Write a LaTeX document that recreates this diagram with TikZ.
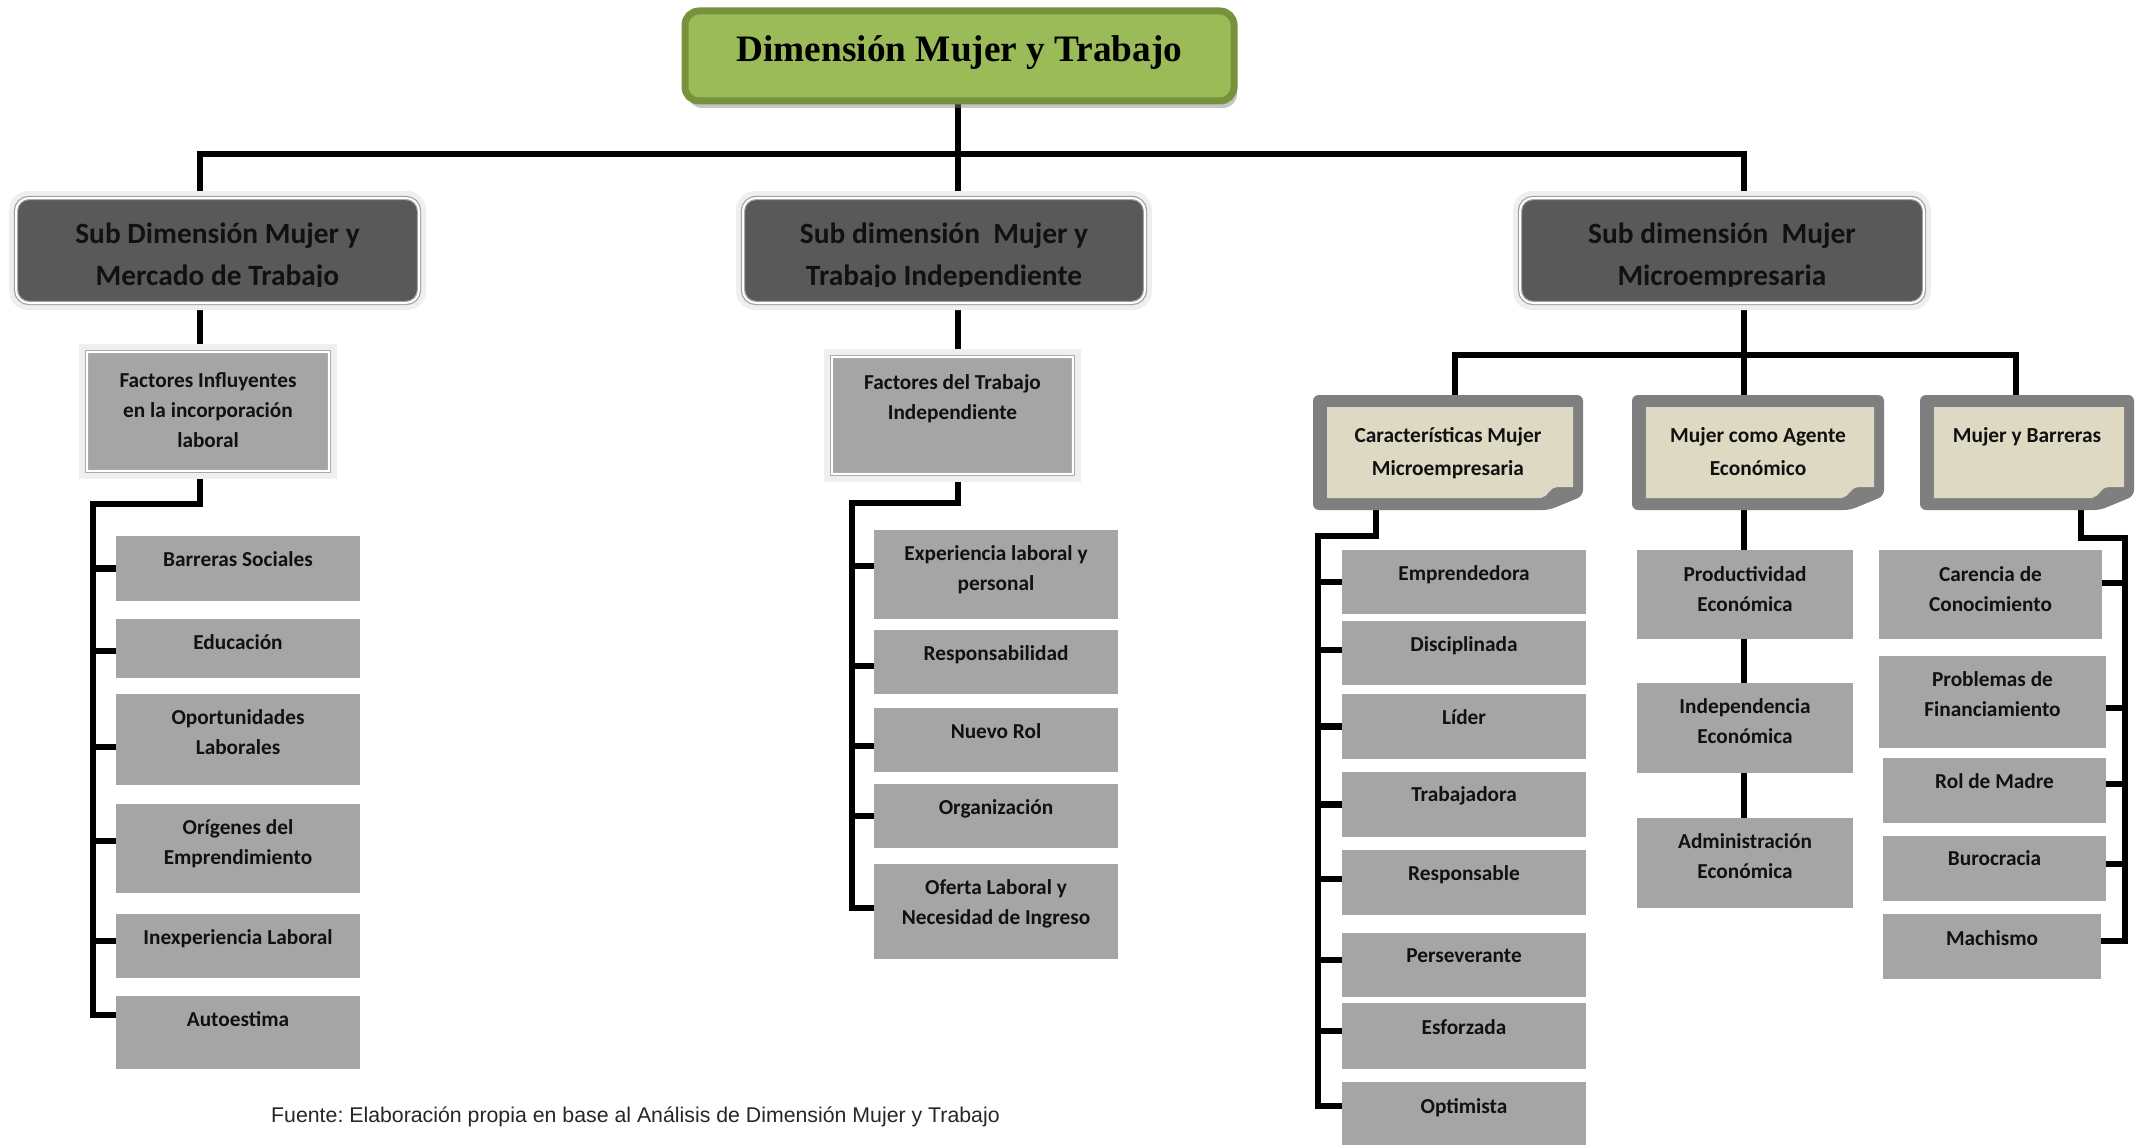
\documentclass[tikz,border=0pt]{standalone}
\usepackage{fontspec}
\setmainfont{Carlito}
\newfontfamily\serifbold{Liberation Serif}
\newfontfamily\arialfont{Liberation Sans}
\usetikzlibrary{calc,backgrounds,shadows}
\frenchspacing

\definecolor{titlefill}{HTML}{9BBB59}
\definecolor{titleedge}{HTML}{76923C}
\definecolor{subfill}{HTML}{595959}
\definecolor{leaffill}{HTML}{A5A5A5}
\definecolor{notegray}{HTML}{7F7F7F}
\definecolor{notetan}{HTML}{DDD9C3}
\definecolor{halo}{HTML}{EFEFEF}
\definecolor{inktext}{HTML}{111111}

% strut that fixes the height of a first text line
\newcommand\fl[1][20pt]{\rule{0pt}{#1}}

% note card with a curled bottom-right corner, drawn around an anchor node
\newcommand\notecard[1]{%
  \fill[notegray, rounded corners=6pt] (#1.north west) -- (#1.north east)
    -- ($(#1.south east)+(0,-14)$) -- ($(#1.south east)+(-34,0)$)
    -- (#1.south west) -- cycle;
  \fill[notetan] ($(#1.north west)+(14,12)$) -- ($(#1.north east)+(-10,12)$)
    -- ($(#1.south east)+(-10,-23)$) -- ($(#1.south east)+(-26,-23)$)
    .. controls ($(#1.south east)+(-33,-23)$) and ($(#1.south east)+(-35,-13)$)
    .. ($(#1.south east)+(-42,-12)$) -- ($(#1.south west)+(14,-12)$) -- cycle;
}

\tikzset{
  conn/.style={draw=black, line width=6.5pt},
  titlebox/.style={rectangle, rounded corners=14pt, fill=titlefill, draw=titleedge,
    line width=7pt, inner sep=0pt, outer sep=0pt,
    drop shadow={shadow xshift=3pt, shadow yshift=-7pt, opacity=0.45}},
  subbox/.style={rectangle, rounded corners=13pt, fill=subfill, draw=gray!75,
    double=white, double distance=2pt, line width=1.2pt, inner sep=0pt, outer sep=0pt},
  factbox/.style={rectangle, fill=leaffill, draw=gray!65, double=white,
    double distance=2pt, line width=1.2pt, inner sep=0pt, outer sep=0pt},
  leafbox/.style={rectangle, fill=leaffill, inner sep=0pt, outer sep=0pt},
  notebox/.style={rectangle, inner sep=0pt, outer sep=0pt},
  leaftext/.style={anchor=north, inner sep=0pt, align=center, text=inktext,
    font=\fontsize{21.3}{30}\selectfont\bfseries},
  subtext/.style={anchor=north, inner sep=0pt, align=center, text=inktext,
    font=\fontsize{29.4}{42}\selectfont\bfseries},
  notetext/.style={anchor=north, inner sep=0pt, align=center, text=inktext,
    font=\fontsize{21.4}{33}\selectfont\bfseries},
}

\begin{document}
\begin{tikzpicture}[x=1pt, y=-1pt]
\useasboundingbox (0,0) rectangle (2138,1145);

% ---------- title ----------
\node[titlebox, minimum width=549, minimum height=90] (title) at (959.5,56) {};
\node[anchor=base, inner sep=0pt, font=\serifbold\bfseries\fontsize{37.3}{44}\selectfont]
  (titlet) at ($(title.center)+(0,6)$) {Dimensión Mujer y Trabajo};

% ---------- sub dimensions (text frame cuts the descenders of the 2nd line) ----------
\node[subbox, minimum width=403, minimum height=105] (s1) at (217.5,250.5) {};
\node[subbox, minimum width=402, minimum height=105] (s2) at (944,250.5) {};
\node[subbox, minimum width=404, minimum height=105] (s3) at (1722,250.5) {};
\begin{scope}
  \clip (s1.north west) rectangle ($(s1.south east)+(0,-16.5)$);
  \node[subtext] (s1t) at ($(s1.north)+(0,21)$) {\fl[24pt]Sub Dimensión Mujer y\\Mercado de Trabajo};
\end{scope}
\begin{scope}
  \clip (s2.north west) rectangle ($(s2.south east)+(0,-16.5)$);
  \node[subtext] (s2t) at ($(s2.north)+(0,21)$) {\fl[24pt]Sub dimensión~ Mujer y\\Trabajo Independiente};
\end{scope}
\begin{scope}
  \clip (s3.north west) rectangle ($(s3.south east)+(0,-16.5)$);
  \node[subtext] (s3t) at ($(s3.north)+(0,21)$) {\fl[24pt]Sub dimensión~ Mujer\\Microempresaria};
\end{scope}

% ---------- factor boxes ----------
\node[factbox, minimum width=242, minimum height=119] (f1) at (208,411.5) {};
\node[leaftext] (f1t) at ($(f1.north)+(0,15)$) {\fl Factores Influyentes\\en la incorporación\\laboral};
\node[factbox, minimum width=241, minimum height=117] (f2) at (952.5,415.5) {};
\node[leaftext] (f2t) at ($(f2.north)+(0,12)$) {\fl Factores del Trabajo\\Independiente};

% ---------- note cards ----------
\node[notebox, minimum width=270, minimum height=115] (nA) at (1448,452.5) {};
\notecard{nA}
\node[notetext] (nAt) at ($(nA.north)+(0,27)$) {\fl Características Mujer\\Microempresaria};
\node[notebox, minimum width=252, minimum height=115] (nB) at (1758,452.5) {};
\notecard{nB}
\node[notetext] (nBt) at ($(nB.north)+(0,27)$) {\fl Mujer como Agente\\Económico};
\node[notebox, minimum width=214, minimum height=115] (nC) at (2027,452.5) {};
\notecard{nC}
\node[notetext] (nCt) at ($(nC.north)+(0,27)$) {\fl Mujer y Barreras};

% ---------- leaves: labour market ----------
\node[leafbox, minimum width=244, minimum height=65] (l1) at (238,568.5) {};
\node[leafbox, minimum width=244, minimum height=59] (l2) at (238,648.5) {};
\node[leafbox, minimum width=244, minimum height=91] (l3) at (238,739.5) {};
\node[leafbox, minimum width=244, minimum height=89] (l4) at (238,848.5) {};
\node[leafbox, minimum width=244, minimum height=64] (l5) at (238,946) {};
\node[leafbox, minimum width=244, minimum height=73] (l6) at (238,1032.5) {};
\node[leaftext] (l1t) at ($(l1.north)+(0,10.5)$) {\fl Barreras Sociales};
\node[leaftext] (l2t) at ($(l2.north)+(0,10.5)$) {\fl Educación};
\node[leaftext] (l3t) at ($(l3.north)+(0,10.5)$) {\fl Oportunidades\\Laborales};
\node[leaftext] (l4t) at ($(l4.north)+(0,10.5)$) {\fl Orígenes del\\Emprendimiento};
\node[leaftext] (l5t) at ($(l5.north)+(0,10.5)$) {\fl Inexperiencia Laboral};
\node[leaftext] (l6t) at ($(l6.north)+(0,10.5)$) {\fl Autoestima};

% ---------- leaves: independent work ----------
\node[leafbox, minimum width=244, minimum height=89] (m1) at (996,574.5) {};
\node[leafbox, minimum width=244, minimum height=64] (m2) at (996,662) {};
\node[leafbox, minimum width=244, minimum height=64] (m3) at (996,740) {};
\node[leafbox, minimum width=244, minimum height=64] (m4) at (996,816) {};
\node[leafbox, minimum width=244, minimum height=95] (m5) at (996,911.5) {};
\node[leaftext] (m1t) at ($(m1.north)+(0,10)$) {\fl Experiencia laboral y\\personal};
\node[leaftext] (m2t) at ($(m2.north)+(0,10)$) {\fl Responsabilidad};
\node[leaftext] (m3t) at ($(m3.north)+(0,10)$) {\fl Nuevo Rol};
\node[leaftext] (m4t) at ($(m4.north)+(0,10)$) {\fl Organización};
\node[leaftext] (m5t) at ($(m5.north)+(0,10)$) {\fl Oferta Laboral y\\Necesidad de Ingreso};

% ---------- leaves: characteristics ----------
\node[leafbox, minimum width=244, minimum height=64] (a1) at (1464,582) {};
\node[leafbox, minimum width=244, minimum height=64] (a2) at (1464,653) {};
\node[leafbox, minimum width=244, minimum height=65] (a3) at (1464,726.5) {};
\node[leafbox, minimum width=244, minimum height=65] (a4) at (1464,804.5) {};
\node[leafbox, minimum width=244, minimum height=65] (a5) at (1464,882.5) {};
\node[leafbox, minimum width=244, minimum height=64] (a6) at (1464,965) {};
\node[leafbox, minimum width=244, minimum height=66] (a7) at (1464,1036) {};
\node[leafbox, minimum width=244, minimum height=63] (a8) at (1464,1113.5) {};
\node[leaftext] (a1t) at ($(a1.north)+(0,10)$) {\fl Emprendedora};
\node[leaftext] (a2t) at ($(a2.north)+(0,10.5)$) {\fl Disciplinada};
\node[leaftext] (a3t) at ($(a3.north)+(0,10.5)$) {\fl Líder};
\node[leaftext] (a4t) at ($(a4.north)+(0,9.5)$) {\fl Trabajadora};
\node[leaftext] (a5t) at ($(a5.north)+(0,10.5)$) {\fl Responsable};
\node[leaftext] (a6t) at ($(a6.north)+(0,9.5)$) {\fl Perseverante};
\node[leaftext] (a7t) at ($(a7.north)+(0,11)$) {\fl Esforzada};
\node[leaftext] (a8t) at ($(a8.north)+(0,11)$) {\fl Optimista};

% ---------- leaves: economic agent ----------
\node[leafbox, minimum width=216, minimum height=89] (b1) at (1745,594.5) {};
\node[leafbox, minimum width=216, minimum height=90] (b2) at (1745,728) {};
\node[leafbox, minimum width=216, minimum height=90] (b3) at (1745,863) {};
\node[leaftext] (b1t) at ($(b1.north)+(0,11.5)$) {\fl Productividad\\Económica};
\node[leaftext] (b2t) at ($(b2.north)+(0,10)$) {\fl Independencia\\Económica};
\node[leaftext] (b3t) at ($(b3.north)+(0,10)$) {\fl Administración\\Económica};

% ---------- leaves: barriers ----------
\node[leafbox, minimum width=223, minimum height=89] (c1) at (1990.5,594.5) {};
\node[leafbox, minimum width=227, minimum height=92] (c2) at (1992.5,702) {};
\node[leafbox, minimum width=223, minimum height=65] (c3) at (1994.5,790.5) {};
\node[leafbox, minimum width=223, minimum height=65] (c4) at (1994.5,868.5) {};
\node[leafbox, minimum width=218, minimum height=65] (c5) at (1992,946.5) {};
\node[leaftext] (c1t) at ($(c1.north)+(0,11.5)$) {\fl Carencia de\\Conocimiento};
\node[leaftext] (c2t) at ($(c2.north)+(0,10)$) {\fl Problemas de\\Financiamiento};
\node[leaftext] (c3t) at ($(c3.north)+(0,10)$) {\fl Rol de Madre};
\node[leaftext] (c4t) at ($(c4.north)+(0,9)$) {\fl Burocracia};
\node[leaftext] (c5t) at ($(c5.north)+(0,11)$) {\fl Machismo};

% ---------- source line ----------
\node[anchor=base west, inner sep=0pt, text=black!85,
  font=\arialfont\fontsize{21.3}{25}\selectfont] (src) at (271,1122)
  {Fuente: Elaboración propia en base al Análisis de Dimensión Mujer y Trabajo};

% ---------- junction points ----------
\coordinate (barL) at (200,154);
\coordinate (barM) at (958,154);
\coordinate (barR) at (1744,154);
\coordinate (barA) at (1455,355);
\coordinate (barB) at (1744,355);
\coordinate (barC) at (2016,355);
\coordinate (jL) at (200,504);   \coordinate (spL) at (93,504);
\coordinate (jM) at (958,503);   \coordinate (spM) at (852,503);
\coordinate (jA) at (1376,536);  \coordinate (spA) at (1318,536);
\coordinate (jC) at (2081,538);  \coordinate (spC) at (2125,538);

% tick points on the boxes
\coordinate (t1) at (l1.west);
\coordinate (t2) at ([yshift=-2.5pt]l2.west);
\coordinate (t3) at ([yshift=-7.5pt]l3.west);
\coordinate (t4) at ([yshift=7.5pt]l4.west);
\coordinate (t5) at ([yshift=5pt]l5.west);
\coordinate (t6) at ([yshift=17.5pt]l6.west);
\coordinate (u1) at ([yshift=8.5pt]m1.west);
\coordinate (u2) at ([yshift=-4pt]m2.west);
\coordinate (u3) at ([yshift=-6pt]m3.west);
\coordinate (u4) at (m4.west);
\coordinate (u5) at ([yshift=3.5pt]m5.west);
\coordinate (v1) at (a1.west);
\coordinate (v2) at ([yshift=3pt]a2.west);
\coordinate (v3) at (a3.west);
\coordinate (v4) at (a4.west);
\coordinate (v5) at ([yshift=3.5pt]a5.west);
\coordinate (v6) at ([yshift=5pt]a6.west);
\coordinate (v7) at ([yshift=5pt]a7.west);
\coordinate (v8) at ([yshift=7.5pt]a8.west);
\coordinate (w1) at ([yshift=11.5pt]c1.east);
\coordinate (w2) at ([yshift=-6pt]c2.east);
\coordinate (w3) at ([yshift=6.5pt]c3.east);
\coordinate (w4) at ([yshift=4.5pt]c4.east);
\coordinate (w5) at ([yshift=5.5pt]c5.east);

% ---------- connectors and halos behind the boxes ----------
\begin{scope}[on background layer]
  \fill[white] (0,0) rectangle (2138,1145);

  \draw[conn] (title.south -| barM) -- (s2.north -| barM);
  \draw[conn] (s1.north -| barL) -- (barL) -- (barR) -- (s3.north -| barR);
  \draw[conn] (s1.south -| barL) -- (f1.north -| barL);
  \draw[conn] (s2.south -| barM) -- (f2.north -| barM);
  \draw[conn] (s3.south -| barB) -- (nB.north -| barB);
  \draw[conn] (nA.north -| barA) -- (barA) -- (barC) -- (nC.north -| barC);

  \draw[conn] (f1.south -| jL) -- (jL) -- (spL) -- (spL |- t6) -- (t6);
  \foreach \p in {t1,t2,t3,t4,t5} \draw[conn] (\p) -- (\p -| spL);

  \draw[conn] (f2.south -| jM) -- (jM) -- (spM) -- (spM |- u5) -- (u5);
  \foreach \p in {u1,u2,u3,u4} \draw[conn] (\p) -- (\p -| spM);

  \draw[conn] (nA.south -| jA) -- (jA) -- (spA) -- (spA |- v8) -- (v8);
  \foreach \p in {v1,v2,v3,v4,v5,v6,v7} \draw[conn] (\p) -- (\p -| spA);

  \draw[conn] (nB.south -| barB) -- (b3.north -| barB);

  \draw[conn] (nC.south -| jC) -- (jC) -- (spC) -- (spC |- w5) -- (w5);
  \foreach \p in {w1,w2,w3,w4} \draw[conn] (\p) -- (\p -| spC);

  % soft halos round the sub-dimension and factor boxes
  \foreach \b in {s1,s2,s3}
    \fill[halo, rounded corners=19pt] ($(\b.north west)+(-7,-7)$) rectangle ($(\b.south east)+(7,7)$);
  \foreach \b in {f1,f2}
    \fill[halo] ($(\b.north west)+(-8,-8)$) rectangle ($(\b.south east)+(8,8)$);
\end{scope}
\end{tikzpicture}
\end{document}
